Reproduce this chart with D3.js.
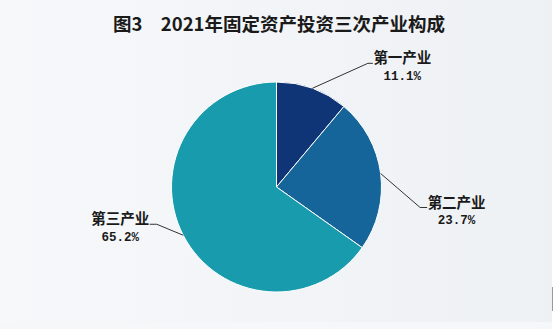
<!DOCTYPE html>
<html>
<head>
<meta charset="utf-8">
<script src="https://cdn.jsdelivr.net/npm/d3@7/dist/d3.min.js"></script>
<style>
  html, body { margin: 0; padding: 0; background: #ffffff; }
  svg { display: block; }
</style>
</head>
<body>
<svg id="chart" width="554" height="329"></svg>
<script>
// Composition of 2021 fixed-asset investment by industry (%)
const categories = ["第一产业", "第二产业", "第三产业"];
const shares = [11.1, 23.7, 65.2];
const shareLabels = ["11.1%", "23.7%", "65.2%"];
const sliceColors = ["#103577", "#15649a", "#179bad"];
const titleText = "图3\u30002021年固定资产投资三次产业构成";

const W = 554, H = 329;
const cx = 276.5, cy = 187, R = 105;
const svg = d3.select("#chart");

// soft horizontal background wash
const defs = svg.append("defs");
const grad = defs.append("linearGradient").attr("id", "bg").attr("x1", 0).attr("x2", 1).attr("y1", 0).attr("y2", 0);
grad.append("stop").attr("offset", "0%").attr("stop-color", "#f6f8fa");
grad.append("stop").attr("offset", "100%").attr("stop-color", "#eef1f4");
svg.append("rect").attr("x", 0).attr("y", 0).attr("width", 552).attr("height", 322).attr("fill", "url(#bg)");
svg.append("rect").attr("x", 0).attr("y", 322).attr("width", 552).attr("height", 7).attr("fill", "#f6f7f9");
svg.append("line").attr("x1", 552.5).attr("x2", 552.5).attr("y1", 287).attr("y2", 311)
  .attr("stroke", "#9a9a9a").attr("stroke-width", 1);

// title
svg.append("text")
  .attr("x", 279).attr("y", 31)
  .attr("text-anchor", "middle")
  .attr("font-family", "'Noto Sans CJK SC', sans-serif")
  .attr("font-weight", "bold")
  .attr("font-size", 18.5)
  .attr("fill", "#1a1a1a")
  .text(titleText);

const pie = d3.pie().sort(null).value(d => d);
const arcs = pie(shares);
const arc = d3.arc().innerRadius(0).outerRadius(R);

const g = svg.append("g").attr("transform", `translate(${cx},${cy})`);
g.selectAll("path.slice")
  .data(arcs)
  .join("path")
  .attr("class", "slice")
  .attr("d", arc)
  .attr("fill", (d, i) => sliceColors[i])
  .attr("stroke", "#ffffff")
  .attr("stroke-width", 1);

// leader lines: from the slice's outer midpoint to an elbow, then a short horizontal tail
const edgeArc = d3.arc().innerRadius(R).outerRadius(R);
const elbowOffset = [[55.5, -25], [39.5, 34], [-26.5, -11]];
const tail = [5, 7, -7];
const nameW = 59;

arcs.forEach((d, i) => {
  const p0 = edgeArc.centroid(d);
  const p1 = [p0[0] + elbowOffset[i][0], p0[1] + elbowOffset[i][1]];
  const p2 = [p1[0] + tail[i], p1[1]];
  g.append("polyline")
    .attr("points", [p0, p1, p2].map(p => p.join(",")).join(" "))
    .attr("fill", "none")
    .attr("stroke", "#333333")
    .attr("stroke-width", 1);

  const right = tail[i] > 0;
  const centerX = right ? p2[0] + nameW / 2 : p2[0] - nameW / 2;
  g.append("text")
    .attr("x", centerX).attr("y", p2[1])
    .attr("text-anchor", "middle")
    .attr("font-family", "'Noto Sans CJK SC', sans-serif")
    .attr("font-weight", "bold")
    .attr("font-size", 14.5)
    .attr("fill", "#1a1a1a")
    .text(categories[i]);
  g.append("text")
    .attr("x", centerX).attr("y", p2[1] + 16.5)
    .attr("text-anchor", "middle")
    .attr("font-family", "'Liberation Mono', 'DejaVu Sans Mono', monospace")
    .attr("font-weight", "bold")
    .attr("font-size", 12.5)
    .attr("fill", "#1a1a1a")
    .text(shareLabels[i]);
});
</script>
</body>
</html>
